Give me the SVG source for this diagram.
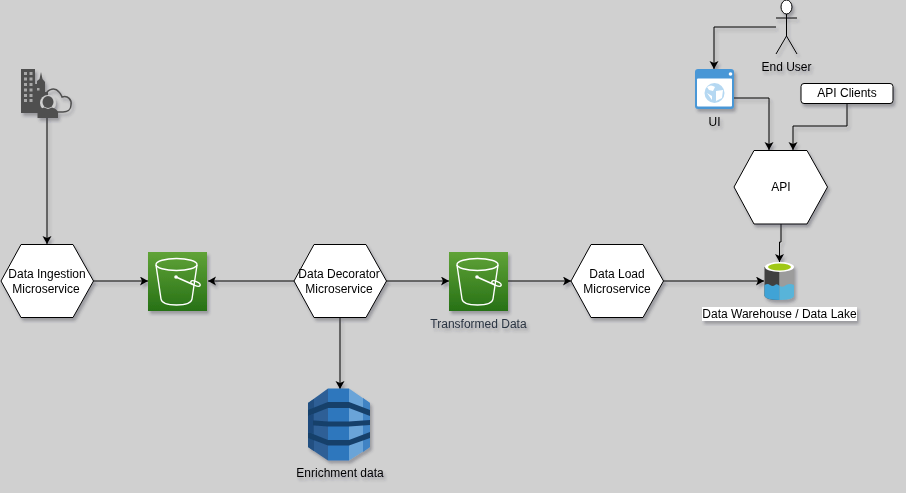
<svg xmlns="http://www.w3.org/2000/svg" width="906" height="493" viewBox="0 0 906 493">
<style>
text{font-family:"Liberation Sans",Arial,sans-serif;font-size:12px;fill:#000;text-anchor:middle}
.hex{fill:#fff;stroke:#000;stroke-width:1}
.conn{fill:none;stroke:#000;stroke-width:1;marker-end:url(#arr)}
.sh{filter:url(#shadow)}
.bk{fill:none;stroke:#fff;stroke-width:1.4}
</style>
<defs>
<filter id="shadow" x="-20%" y="-20%" width="150%" height="150%"><feDropShadow dx="2" dy="3" stdDeviation="1.4" flood-color="#334" flood-opacity="0.35"/></filter>
<linearGradient id="s3" x1="0" y1="1" x2="0" y2="0"><stop offset="0" stop-color="#277116"/><stop offset="1" stop-color="#60a337"/></linearGradient>
<marker id="arr" markerUnits="userSpaceOnUse" markerWidth="10" markerHeight="10" refX="8" refY="4.500" orient="auto"><path d="M0 0L8 4.500L0 9L2 4.500Z" fill="#000"/></marker>
<g id="bucket"><rect width="59" height="59" fill="url(#s3)"/>
<ellipse cx="28.500" cy="12.500" rx="20.500" ry="6" class="bk"/>
<path d="M8 13L13 47Q14 53 28.500 53Q43 53 44 47L49 13" class="bk"/>
<circle cx="28" cy="25" r="1.800" fill="#fff"/>
<path d="M28 25L46 33" class="bk"/>
<ellipse cx="47.500" cy="31.500" rx="5" ry="2" transform="rotate(22 47.500 31.500)" class="bk"/></g>
</defs>
<rect width="906" height="493" fill="#d0d0d0"/>
<g id="connectors" class="sh">
<path class="conn" d="M47 117V244"/>
<path class="conn" d="M93 281H148"/>
<path class="conn" d="M294 281H208"/>
<path class="conn" d="M386 281H449"/>
<path class="conn" d="M508 281H571"/>
<path class="conn" d="M663 281H764"/>
<path class="conn" d="M340 318V389"/>
<path class="conn" d="M781 224V242H779.500V262"/>
<path class="conn" d="M776 27H714V69"/>
<path class="conn" d="M734 98H769V150"/>
<path class="conn" d="M847 103V126H793V150"/>
</g>
<g id="source" class="sh" fill="#505050">
<path d="M21 69H35V113H21Z"/>
<path d="M35 113V84H37V81L39.500 79L41 72L42.500 79L45 82V92H48V113Z"/>
<g fill="#a8a8a8"><path d="M24 72h3v3h-3zM29.500 72h3v3h-3zM24 77.500h3v3h-3zM29.500 77.500h3v3h-3zM24 83h3v3h-3zM29.500 83h3v3h-3zM24 88.500h3v3h-3zM29.500 88.500h3v3h-3zM24 94h3v3h-3zM29.500 94h3v3h-3zM24 99h3v3h-3zM29.500 99h3v3h-3zM37 88h2.500v2.500h-2.500z"/></g>
<circle cx="48" cy="103" r="8" fill="#d0d0d0"/>
<path d="M46 94C48 89 55 87 59 92C61 94 61 95 62 97C68 95 72 100 71 105C71 110 67 112 63 112H57" fill="none" stroke="#505050" stroke-width="1.500"/>
<ellipse cx="48" cy="102" rx="5.500" ry="6"/>
<path d="M37.500 118V113Q38 109 44 107.500L48 109L52 107.500Q58 109 58 113V118Z"/>
</g>
<g id="ingestion" class="sh"><path class="hex" d="M21 244.500H73L93.500 281L73 317.500H21L1 281Z"/><text x="47" y="278">Data Ingestion</text><text x="46" y="293">Microservice</text></g>
<g id="bucket1" class="sh"><use href="#bucket" x="148" y="252"/></g>
<g id="decorator" class="sh"><path class="hex" d="M314 244.500H366L386.500 281L366 317.500H314L294 281Z"/><text x="339" y="278">Data Decorator</text><text x="339" y="293">Microservice</text></g>
<g id="bucket2" class="sh"><use href="#bucket" x="449" y="252"/><text x="478.500" y="328" style="fill:#2a3442">Transformed Data</text></g>
<g id="load" class="sh"><path class="hex" d="M591 244.500H643L663.500 281L643 317.500H591L571 281Z"/><text x="617" y="278">Data Load</text><text x="617" y="293">Microservice</text></g>
<g id="warehouse" class="sh">
<path d="M764.500 267V296Q766 300 779.500 300V267Z" fill="#414141"/>
<path d="M779.500 267V300Q793 300 794 296V267Z" fill="#9c9c9c"/>
<path d="M764.500 285Q768 283 770 285Q773 287 775 285Q777 283 779.500 286V300Q766 300 764.500 296Z" fill="#3fa3d6"/>
<path d="M779.500 286Q783 288 786 285Q790 283 794 285V296Q793 300 779.500 300Z" fill="#59b4d9"/>
<ellipse cx="779.500" cy="267" rx="14.500" ry="5" fill="#fff"/>
<ellipse cx="779.500" cy="267" rx="11.500" ry="3.500" fill="#a0c814"/>
</g>
<g id="warehouse-label" class="sh"><rect x="702" y="307" width="155" height="14" fill="#fff"/><text x="779.500" y="318">Data Warehouse / Data Lake</text></g>
<g id="dynamo" class="sh">
<path d="M308 403L328 388.500V460.500L308 447Z" fill="#2d5f96"/>
<path d="M308 403L314 399V451L308 447Z" fill="#205081"/>
<path d="M328 388.500H349V460.500H328Z" fill="#2f77bd"/>
<path d="M349 388.500L370 403V447L349 460.500Z" fill="#6aa4d8"/>
<path d="M363 398L370 403V447L363 452Z" fill="#3f83c4"/>
<path d="M308 410L328 402H349L370 410V416L349 408H328L308 416Z" fill="#173f6b"/>
<path d="M308 420L328 421.500H349L370 420V425L349 426.500H328L308 425Z" fill="#173f6b"/>
<path d="M308 432L328 440H349L370 432V438L349 445.500H328L308 438Z" fill="#173f6b"/>
<path d="M308 416L313 414V433L308 433Z" fill="#1c4a7c"/>
<text x="340" y="477">Enrichment data</text>
</g>
<g id="ui" class="sh">
<rect x="695" y="69" width="39" height="40" rx="3" fill="#4a97d6"/>
<rect x="697" y="78.500" width="35" height="28" rx="1" fill="#fff"/>
<circle cx="730.500" cy="74" r="1.800" fill="#fff"/>
<circle cx="714.500" cy="93" r="10" fill="#b5d8f2"/>
<path d="M707 87Q711 84 715 87L713 91L709 90ZM716 91L723 90L722 98L716 101ZM707 93L712 96L712 100Z" fill="#fff"/>
<text x="714.500" y="126">UI</text>
</g>
<g id="api-clients" class="sh"><rect x="801" y="83.500" width="92" height="20" rx="3" fill="#fff" stroke="#000"/><text x="847" y="97">API Clients</text></g>
<g id="api" class="sh"><path class="hex" d="M754 150.500H807L827.500 187L807 224H754L734 187Z"/><text x="781" y="191">API</text></g>
<g id="end-user" class="sh">
<ellipse cx="786.500" cy="7" rx="5.500" ry="7" fill="#fff" stroke="#000"/>
<path d="M786.500 14V36M776 18H797M786.500 36L776 54M786.500 36L797 54" fill="none" stroke="#000"/>
<text x="786.500" y="71">End User</text>
</g>
</svg>
